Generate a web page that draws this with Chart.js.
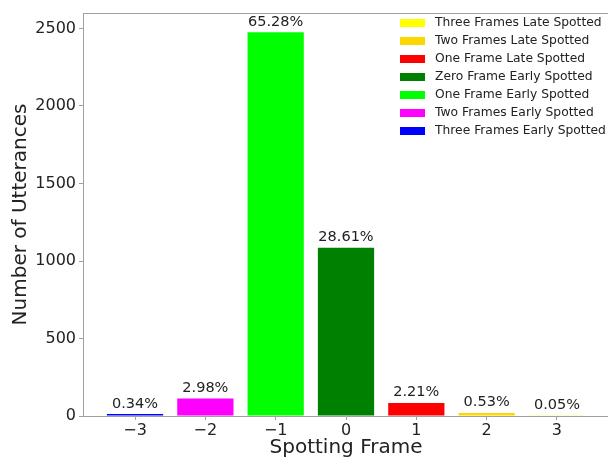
<!DOCTYPE html>
<html>
<head>
<meta charset="utf-8">
<script src="https://cdn.jsdelivr.net/npm/chart.js@4/dist/chart.umd.min.js"></script>
<style>
  html, body { margin: 0; padding: 0; background: #fff; overflow: hidden; }
  #wrap { width: 608px; height: 460px; overflow: hidden; }
</style>
</head>
<body>
<div id="wrap"><canvas id="chart" width="610" height="460"></canvas></div>
<script>
const frames = [-3, -2, -1, 0, 1, 2, 3];
const counts = [13, 113, 2476, 1085, 84, 20, 2];
const percentLabels = ['0.34%', '2.98%', '65.28%', '28.61%', '2.21%', '0.53%', '0.05%'];
const seriesNames = [
  'Three Frames Early Spotted',
  'Two Frames Early Spotted',
  'One Frame Early Spotted',
  'Zero Frame Early Spotted',
  'One Frame Late Spotted',
  'Two Frames Late Spotted',
  'Three Frames Late Spotted'
];
const barColors = ['#0000ff', '#ff00ff', '#00ff00', '#008000', '#ff0000', '#ffd700', '#ffff00'];
const yTicks = [0, 500, 1000, 1500, 2000, 2500];

const FONT = "'DejaVu Sans', sans-serif";
const TEXT = '#222222';
const SPINE = '#a0a0a0';

// percentage labels over bars, frame box and legend in the top right
const extras = {
  id: 'extras',
  afterDatasetsDraw(chart) {
    const ctx = chart.ctx;
    const meta = chart.getDatasetMeta(0);
    ctx.save();
    ctx.font = '14.5px ' + FONT;
    ctx.fillStyle = TEXT;
    ctx.textAlign = 'center';
    ctx.textBaseline = 'bottom';
    meta.data.forEach((bar, i) => {
      ctx.fillText(percentLabels[i], bar.x, bar.y - 3);
    });

    const a = chart.chartArea;
    ctx.strokeStyle = SPINE;
    ctx.lineWidth = 1;
    ctx.beginPath();
    ctx.moveTo(a.left, a.top + 0.5);
    ctx.lineTo(a.right, a.top + 0.5);
    ctx.lineTo(a.right, a.bottom);
    ctx.stroke();

    // legend, late frames first
    ctx.font = '12.3px ' + FONT;
    ctx.textAlign = 'left';
    ctx.textBaseline = 'middle';
    for (let k = 0; k < seriesNames.length; k++) {
      const i = seriesNames.length - 1 - k;
      const cy = 23 + k * 18;
      ctx.fillStyle = barColors[i];
      ctx.fillRect(400, cy - 4, 25, 8);
      ctx.fillStyle = TEXT;
      ctx.fillText(seriesNames[i], 435, cy);
    }
    ctx.restore();
  }
};

new Chart(document.getElementById('chart'), {
  type: 'bar',
  data: {
    datasets: [{
      data: frames.map((f, i) => ({ x: f, y: counts[i] })),
      backgroundColor: barColors,
      borderWidth: 0,
      barPercentage: 0.8,
      categoryPercentage: 1.0
    }]
  },
  options: {
    responsive: false,
    animation: false,
    devicePixelRatio: 1,
    layout: { padding: { top: 13, right: 1, left: 0, bottom: 0 } },
    plugins: { legend: { display: false }, tooltip: { enabled: false } },
    scales: {
      x: {
        type: 'linear',
        offset: false,
        min: -3.74,
        max: 3.74,
        afterBuildTicks: s => { s.ticks = frames.map(v => ({ value: v })); },
        afterFit: s => { s.height = 44; },
        grid: { offset: false, drawOnChartArea: false, drawTicks: true, tickLength: 4, color: SPINE },
        border: { color: SPINE },
        ticks: {
          color: TEXT,
          font: { family: FONT, size: 16 },
          padding: 1,
          maxRotation: 0,
          callback: v => (v < 0 ? '\u2212' + Math.abs(v) : String(v))
        },
        title: {
          display: true,
          text: 'Spotting Frame',
          color: TEXT,
          font: { family: FONT, size: 20 },
          padding: { top: 0, bottom: 0 }
        }
      },
      y: {
        min: 0,
        max: 2600,
        afterBuildTicks: s => { s.ticks = yTicks.map(v => ({ value: v })); },
        afterFit: s => { s.width = 83; },
        grid: { drawOnChartArea: false, drawTicks: true, tickLength: 4, color: SPINE },
        border: { color: SPINE },
        ticks: {
          color: TEXT,
          font: { family: FONT, size: 16 },
          padding: 3,
          callback: v => String(v)
        },
        title: {
          display: true,
          text: 'Number of Utterances',
          color: TEXT,
          font: { family: FONT, size: 20 },
          padding: { top: 9, bottom: 0 }
        }
      }
    }
  },
  plugins: [extras]
});
</script>
</body>
</html>
